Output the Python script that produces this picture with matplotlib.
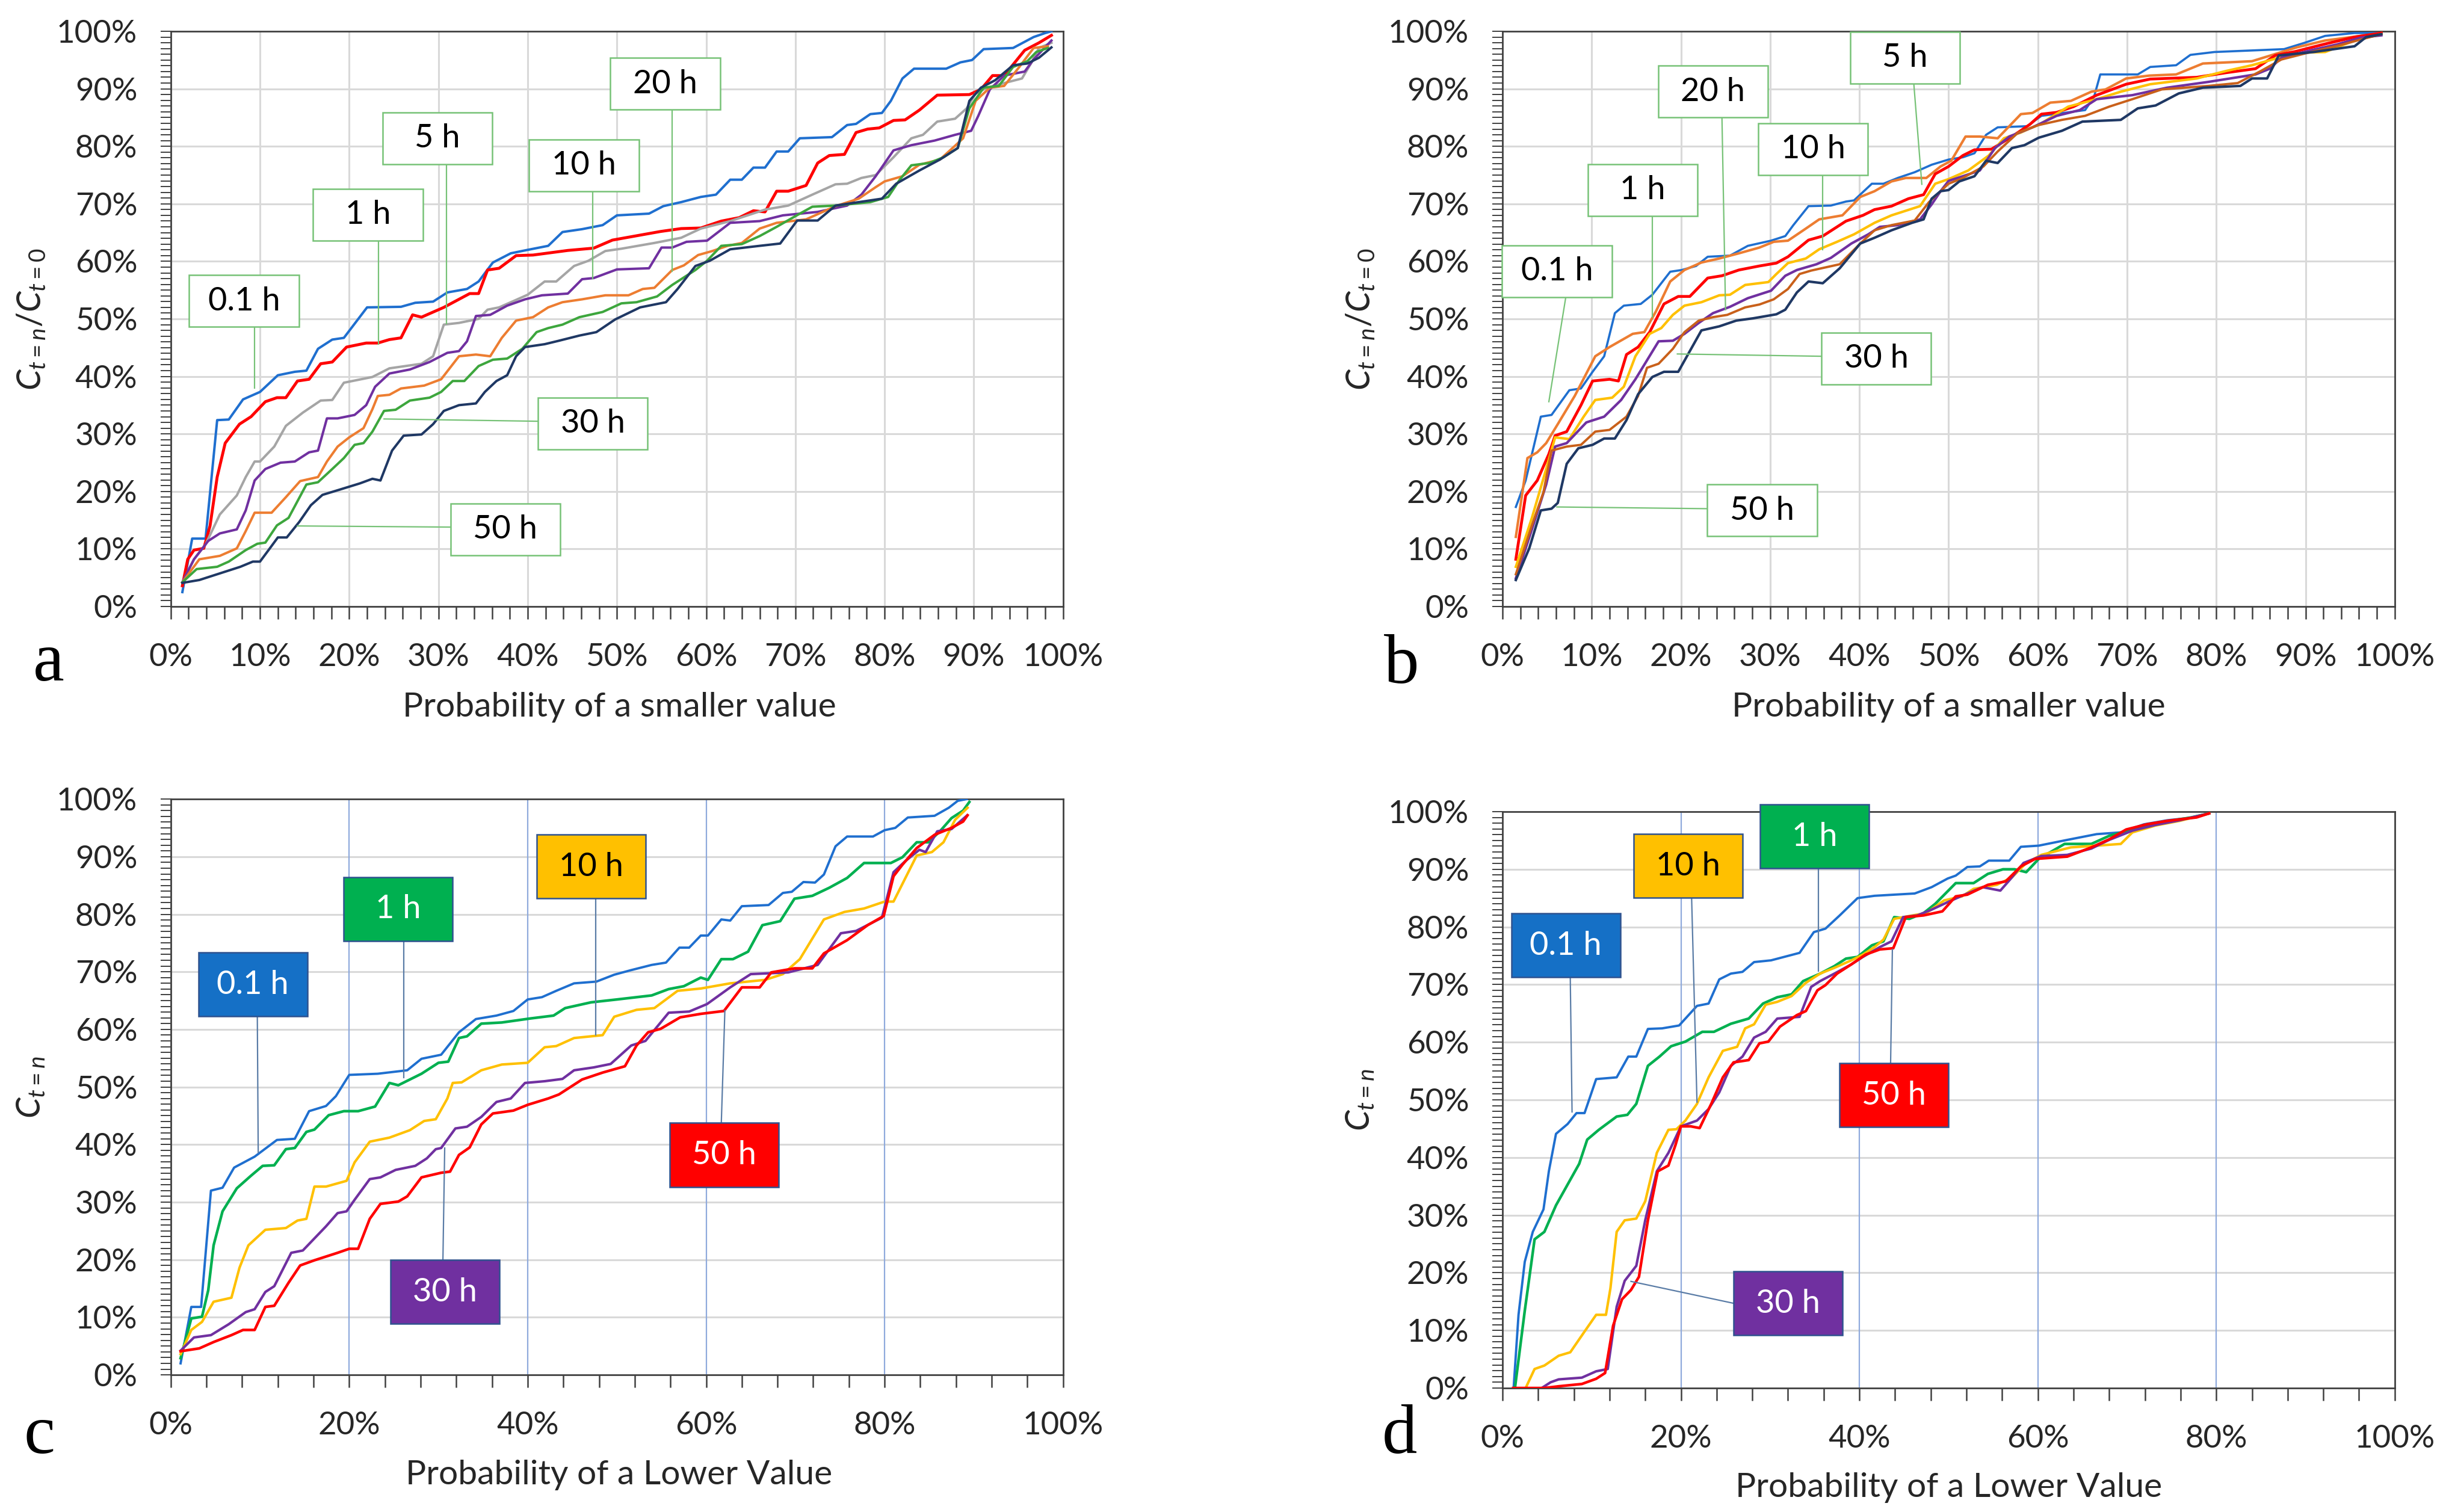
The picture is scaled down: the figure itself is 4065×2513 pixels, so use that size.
import matplotlib.pyplot as plt
from matplotlib.patches import Rectangle
from matplotlib.ticker import MultipleLocator, FuncFormatter

plt.rcParams['font.family'] = ['Lato', 'DejaVu Sans']
plt.rcParams['mathtext.fontset'] = 'custom'
plt.rcParams['mathtext.it'] = 'Lato:italic'
plt.rcParams['mathtext.rm'] = 'Lato'

# ---------------- panel a : Ct=n/Ct=0 vs probability of a smaller value ----------------
a_01_x = [1.3, 2.4, 3.9, 5.2, 6.5, 8.1, 10, 12, 13.9, 15.2, 16.5, 18.1, 19.4, 22, 25.8, 27.4, 29.4, 31, 33.2, 34.5,
          36.1, 38.1, 40, 42.3, 43.9, 46.1, 48.4, 50, 53.6, 55.2, 57.2, 59.4, 61.1, 62.7, 64, 65.3, 66.6, 67.9, 69.2,
          70.5, 74.1, 75.8, 76.8, 78.4, 79.7, 80.7, 82, 83.3, 86.9, 88.5, 89.8, 91.1, 94.4, 96.7, 98, 98.7]
a_01_y = [2.5, 11.8, 11.8, 32.4, 32.5, 36, 37.3, 40.2, 40.8, 41, 44.8, 46.4, 46.7, 52, 52.1, 52.8, 53, 54.6, 55.2, 56.5,
          59.8, 61.4, 62, 62.7, 65.1, 65.6, 66.3, 68, 68.3, 69.6, 70.3, 71.2, 71.6, 74.2, 74.2, 76.3, 76.3, 79.1, 79.1,
          81.4, 81.6, 83.7, 83.9, 85.6, 85.8, 87.9, 91.8, 93.5, 93.5, 94.6, 95, 96.9, 97.1, 99, 99.7, 100]
a_1_x = [1.3, 1.9, 2.6, 3.7, 4.4, 5.2, 6.1, 7.7, 9, 10.6, 11.9, 12.9, 14.2, 15.5, 16.8, 18.1, 19.7, 21.9, 23.2, 24.5,
         25.8, 27.1, 28.1, 30.6, 33.5, 34.5, 35.5, 36.8, 38.7, 40.6, 44.5, 47.4, 49.5, 54.9, 57.2, 59.4, 61.7, 63.7,
         65.3, 66.6, 67.9, 69.2, 71.2, 72.5, 73.8, 75.5, 76.8, 78.1, 79.4, 81, 82.3, 83.9, 85.9, 89.5, 90.8, 92.1, 93.4,
         95.7, 97.3, 98.7]
a_1_y = [3.6, 8.2, 9.8, 10.1, 14, 22.5, 28.4, 31.7, 33, 35.6, 36.3, 36.3, 39.2, 39.5, 42.2, 42.5, 45.1, 45.8, 45.8, 46.4,
         46.7, 50.7, 50.3, 52, 54.4, 54.4, 58.5, 58.8, 61, 61.1, 61.9, 62.3, 63.7, 65.2, 65.7, 65.8, 67, 67.6,
         68.8, 68.6, 72.2, 72.2, 73.2, 77.1, 78.4, 78.6, 82.4, 83, 83.2, 84.5, 84.6, 86.3, 88.9, 89, 89.9, 92.3, 92.3,
         96.7, 98, 99.3]
a_5_x = [1.3, 2.6, 3.9, 5.5, 7.4, 8.4, 9.4, 10, 11.6, 12.9, 14.8, 16.8, 18.1, 19.4, 22.6, 24.5, 28.1, 29.4, 30.6, 32.3,
         34.5, 35.5, 36.8, 38.7, 40, 41.9, 43.2, 45.2, 46.8, 48.7, 50.5, 54.2, 57.2, 59.4, 62.7, 66.6, 69.2, 71.9, 74.5,
         75.8, 77.4, 79, 81, 83, 84.3, 85.9, 87.9, 89.2, 90.2, 91.5, 93.4, 95.4, 96.4, 97.3, 98.7]
a_5_y = [4.2, 8.2, 10.8, 16, 19.3, 22.5, 25.2, 25.2, 27.8, 31.4, 33.7, 35.8, 35.9, 38.9, 39.9, 41.4, 42.2, 43.5, 49, 49.3,
         50, 51.6, 52, 53.3, 54.2, 56.5, 56.5, 59.2, 60.1, 61.8, 62.2, 63.2, 64.1, 65.7, 67, 69, 69.7, 71.6, 73.4,
         73.5, 74.5, 75, 78.1, 81.4, 82, 84.3, 84.8, 86.6, 89.2, 90.2, 91, 91.8, 94.4, 97.1, 98]
a_10_x = [1.3, 2.6, 4.2, 5.5, 7.4, 8.4, 9.4, 10.6, 12.3, 13.9, 15.5, 16.5, 17.5, 18.7, 20.6, 21.9, 22.9, 24.5, 26.8, 29,
          31, 32.3, 33.2, 34.2, 35.8, 37.7, 39.7, 41.6, 44.5, 46.1, 47.4, 50, 53.6, 55, 56.2, 57.8, 60.1, 62.7, 66,
          68.6, 72.5, 75.8, 77.4, 79, 81, 83, 85.6, 87.9, 89.7, 90.5, 91.8, 93.4, 95.7, 96.7, 98.7]
a_10_y = [4.2, 8.2, 11.4, 12.7, 13.4, 16.7, 21.9, 23.9, 25, 25.2, 26.8, 27.1, 32.7, 32.7, 33.3, 35, 38.2, 40.5, 41.2, 42.5,
          44.1, 44.4, 46.1, 50.5, 50.7, 52.3, 53.4, 54.1, 54.4, 56.9, 57.1, 58.6, 58.8, 62.4, 62.4, 63.4, 63.6, 66.7, 67,
          68, 68.6, 69.7, 71.6, 74.8, 79.3, 80.2, 81, 82, 82.7, 85.3, 89.9, 92.3, 93, 95.1, 98.4]
a_20_x = [1.3, 3.2, 5.5, 7.4, 8.4, 9.4, 11.3, 12.9, 14.5, 16.5, 17.5, 18.7, 20, 21.6, 22.6, 23.2, 24.5, 25.8, 28.4, 30.3,
          32.3, 34.2, 35.8, 37.1, 38.7, 40.6, 42.3, 43.9, 46.1, 48.7, 51.3, 52.9, 54.2, 56.2, 57.5, 59.1, 60.7, 62.4, 64,
          66, 67.9, 71.2, 74.5, 77.1, 79, 80, 82, 83.9, 86.2, 87.9, 88.8, 90.2, 91.8, 93.4, 95.1, 96.7, 98.3]
a_20_y = [4.2, 8.2, 8.8, 10.1, 13.1, 16.3, 16.3, 19, 21.8, 22.5, 25.2, 27.8, 29.4, 31, 34.3, 36.6, 36.8, 37.9, 38.4, 39.5,
          43.5, 43.8, 43.5, 46.7, 49.7, 50.3, 52, 52.9, 53.4, 54.1, 54.1, 55.2, 55.4, 58.5, 59.3, 61.1, 61.8, 62.7, 63.2,
          65.7, 66.7, 67.3, 69.6, 70.9, 72.9, 73.9, 74.8, 76.8, 77.7, 80.1, 81.4, 87.9, 90.2, 90.5, 93.8, 97.1, 97.4]
a_30_x = [1.3, 2.9, 5.2, 6.5, 8.4, 9.7, 10.6, 11.9, 13.2, 14.2, 15.2, 16.5, 18.1, 19.4, 20.6, 21.6, 22.6, 23.9, 25.2, 26.8,
          29, 30.3, 31.6, 32.9, 34.5, 36.1, 37.7, 39.4, 41, 42.3, 43.9, 45.8, 48.4, 50.5, 52.2, 54.5, 56.2, 58.8, 60.1,
          61.7, 64, 66, 67.9, 70.5, 71.9, 74.5, 78.4, 80.4, 81.7, 83, 85, 86.6, 88.2, 89.5, 91.1, 92.8, 94.4, 96, 97,
          98.3]
a_30_y = [4.2, 6.5, 6.9, 7.8, 9.8, 10.9, 11.1, 14.1, 15.4, 18.3, 21.2, 21.6, 23.9, 25.8, 28.1, 28.4, 30.4, 34, 34.2, 35.8,
          36.3, 37.3, 39.2, 39.2, 41.8, 42.9, 43.1, 44.8, 47.7, 48.4, 49, 50.3, 51.2, 52.7, 52.9, 53.9, 55.9, 58.5, 60.1,
          62.7, 63, 64.4, 66, 68.3, 69.5, 69.7, 70.3, 71.2, 74.2, 76.7, 77.1, 78.1, 79.7, 86.6, 90.2, 90.5, 93.8, 94.8,
          96.4, 97.1]
a_50_x = [1.3, 3.2, 5.2, 7.8, 9.2, 10, 11.1, 12, 13, 14.4, 15.7, 17, 18.9, 21.2, 22.6, 23.5, 24.8, 26.1, 28.1, 29.4, 30.6,
          32.3, 34.2, 35.2, 36.5, 37.7, 38.7, 39.7, 41.9, 43.5, 45.8, 47.7, 49.8, 52.6, 55.5, 56.8, 58.8, 60.4, 62.7, 66,
          68.3, 70.2, 72.5, 74.5, 78.4, 79.7, 81.3, 83.9, 86.2, 88.2, 89.5, 90.8, 92.4, 94.4, 96, 97.3, 98.7]
a_50_y = [4.1, 4.6, 5.6, 6.9, 7.8, 7.8, 10.1, 12, 12, 14.7, 17.6, 19.4, 20.3, 21.4, 22.2, 21.9, 27.1, 29.7, 29.9, 31.7, 34,
          35, 35.3, 37.3, 39.2, 40.2, 43.5, 45.1, 45.6, 46.2, 47.1, 47.7, 49.9, 52, 52.9, 55.2, 59.2, 60.1, 62.1, 62.7,
          63.1, 67.1, 67.1, 69.7, 70.6, 70.9, 73.5, 75.8, 77.7, 79.7, 87.9, 90.2, 91.5, 94.1, 94.4, 95.4, 97.2]

# ---------------- panel b ----------------
b_01_x = [1.5, 2.6, 4.3, 5.5, 7.5, 8.8, 10.1, 11.4, 12.6, 13.6, 15.5, 16.8, 18.8, 20.1, 21.7, 23, 25.5, 27.5, 30.1, 31.7,
          32.6, 34.3, 36.8, 38.5, 39.4, 41.4, 42.7, 44.3, 46.2, 48.1, 50, 51.6, 52.9, 54.2, 55.5, 58.8, 60.4, 65.3, 66.3,
          67, 71.2, 72.6, 75.5, 77.1, 79.8, 87.6, 89.9, 92.2, 95.5, 98.5]
b_01_y = [17.3, 21.9, 33, 33.3, 37.6, 37.9, 40.8, 43.5, 51, 52.3, 52.6, 54.2, 58.2, 58.5, 59.2, 60.8, 61, 62.7, 63.6, 64.4,
          66.3, 69.6, 69.7, 70.4, 70.6, 73.5, 73.5, 74.5, 75.5, 76.8, 77.7, 78.1, 78.8, 82, 83.3, 83.5, 85.3, 86.3, 88.6,
          92.5, 92.5, 93.8, 94.1, 95.9, 96.4, 96.9, 98, 99.2, 99.7, 99.7]
b_1_x = [1.5, 2.8, 3.9, 4.9, 6.2, 8.1, 10.4, 12, 14.6, 15.9, 17.2, 18.8, 20.4, 22.3, 24.3, 26.5, 28.8, 30.4, 32, 34, 35.5,
         38.1, 40.1, 41.7, 43.6, 45.2, 47.5, 49.1, 50.3, 51.9, 53.5, 55.5, 58.1, 59.4, 61.4, 63.7, 66, 67.6, 69.9, 72.5,
         75.5, 78.5, 84, 86.3, 89, 92.2, 96.2, 98.5]
b_1_y = [12.1, 25.8, 26.8, 28.4, 31.7, 36.6, 43.5, 45.1, 47.4, 47.7, 51.3, 56.5, 58.5, 59.8, 60.5, 61.4, 62.4, 63.4, 63.6,
         65.7, 67.3, 68, 71.2, 72.2, 73.9, 74.5, 74.5, 76.5, 77.5, 81.7, 81.7, 81.4, 85.6, 85.8, 87.6, 87.9, 89.5, 89.9,
         91.8, 92.3, 92.5, 94.4, 94.8, 95.9, 97.2, 98.4, 99.2, 99.7]
b_5_x = [1.5, 2.6, 3.9, 5.2, 5.9, 7.2, 8.8, 10.1, 12, 13, 13.9, 15.2, 16.5, 18.1, 19.7, 21, 23, 24.6, 26.5, 28.8, 30.7, 32,
         34.3, 35.9, 38.5, 40.4, 41.7, 43.6, 45.5, 47.2, 48.5, 50, 51.6, 52.9, 54.8, 57.1, 59.1, 60.4, 62.1, 64, 66.6,
         69.9, 72.6, 77.8, 81.1, 84.4, 86.6, 88.9, 92.2, 95.5, 98.5]
b_5_y = [8.2, 19.3, 21.9, 26.5, 29.7, 30.4, 35, 39.2, 39.5, 39.2, 43.8, 45.1, 47.7, 52.6, 53.9, 53.9, 57.1, 57.5, 58.5,
         59.2, 59.7, 60.8, 63.7, 64.4, 67, 68, 69, 69.6, 70.9, 71.6, 75.2, 76.5, 78.4, 79.4, 79.5, 81.7, 83.8, 85.6, 85.9,
         86.9, 88.9, 90.8, 91.7, 92, 92.8, 93.5, 95.8, 96.5, 97.8, 99, 99.7]
b_10_x = [1.5, 3.3, 4.9, 5.9, 7.5, 9.1, 10.4, 12.3, 13.6, 14.9, 16.5, 17.8, 19.1, 20.4, 22.3, 24.3, 25.5, 27.2, 29.8, 30.7,
          32, 34, 35.5, 37.5, 39.4, 41.7, 43.6, 46.8, 48.5, 50, 52.2, 54.5, 56.2, 58.1, 60.4, 63.4, 66.6, 69.3, 72.6, 77.8,
          81.1, 84, 87, 89.9, 92.2, 95.5, 98.5]
b_10_y = [6.9, 15.4, 23.9, 29.4, 29.1, 33, 35.9, 36.3, 38.2, 43.5, 47.4, 48.4, 50.7, 52.3, 52.9, 54.1, 54.2, 55.9, 56.4,
          57.8, 59.7, 60.5, 62.1, 63.4, 64.7, 66.7, 68, 69.6, 73.5, 74.3, 75.8, 78.4, 81.4, 82.4, 84, 86.9, 88.2, 89.5,
          90.8, 91.8, 93.1, 94.1, 95.4, 96.3, 96.4, 98.4, 99.5]
b_20_x = [1.5, 3.3, 4.9, 5.9, 7.2, 9.4, 11.4, 13.3, 14.9, 16.2, 17.5, 19.1, 20.4, 22, 23.6, 25.5, 27.5, 30.1, 31.7, 33,
          35.2, 36.8, 39.1, 41, 42.3, 44.3, 46.8, 48.1, 49.1, 50, 51.6, 53.5, 55.2, 56.8, 59.4, 62.1, 64.7, 66.6, 70.6,
          74.5, 79.1, 84.4, 86, 87.3, 90.6, 93.5, 96.2, 98.5]
b_20_y = [4.9, 13.4, 21.2, 27.8, 28.4, 32, 33, 35.9, 39.5, 42.8, 46.1, 46.2, 47.4, 49.3, 51, 52.1, 53.6, 54.9, 57.5, 58.5,
          59.5, 60.6, 63.1, 64.7, 66, 66.3, 67.3, 69.9, 72.2, 74, 74.8, 75.8, 79.7, 81.7, 83.3, 85.3, 86.3, 88.2, 88.9,
          90.2, 91.2, 92.5, 93.5, 95.4, 96.7, 97.7, 98.9, 99.3]
b_30_x = [1.5, 3.3, 4.6, 5.5, 7.2, 8.8, 10.4, 12, 13.9, 15.2, 16.2, 17.5, 19.1, 20.4, 22, 23.6, 25.2, 27.2, 28.8, 30.4, 32,
          33.3, 34.6, 37.8, 40.1, 41.7, 43.6, 46.2, 47.8, 49.1, 50, 51.6, 53.9, 55.5, 57.8, 60.1, 62.7, 65.3, 68, 70.6,
          73.9, 79.1, 82.4, 85, 87.3, 90.6, 93.9, 96.5, 98.5]
b_30_y = [5.6, 14.1, 19.9, 27.1, 27.8, 28.1, 30.4, 30.7, 33, 36.6, 41.5, 42.2, 44.8, 47.7, 49.7, 50.3, 50.7, 52, 52.5,
          53.4, 55.2, 57.8, 58.4, 59.5, 63.1, 65.4, 66.3, 67.1, 70.3, 72.2, 73.5, 74.5, 76.5, 79.1, 82.4, 83.7, 84.6, 85.3,
          86.9, 88.2, 89.9, 90.5, 91, 93.1, 95.1, 96.4, 97.6, 98.7, 99.5]
b_50_x = [1.5, 3, 4.3, 5.5, 6.2, 7.2, 8.5, 10.1, 11.4, 12.6, 13.9, 15.2, 16.8, 18.1, 19.7, 21, 22.3, 24.3, 26.2, 28.1,
          30.7, 31.7, 33, 34.3, 35.9, 37.8, 40.1, 41.7, 43.6, 45.9, 47.2, 48.1, 49.1, 50, 51.2, 52.9, 54.2, 55.5, 57.1,
          58.5, 60.1, 62.7, 65, 69.3, 71.2, 73.2, 75.8, 78.5, 82.7, 84, 85.7, 87, 90.9, 95.5, 96.8, 98.5]
b_50_y = [4.6, 10.1, 16.7, 17, 18, 24.8, 27.5, 28.1, 29.2, 29.2, 32.4, 36.9, 39.9, 40.8, 40.8, 44.4, 48, 48.7, 49.7, 50.1,
          50.8, 51.6, 54.6, 56.5, 56.2, 58.8, 63.1, 64.1, 65.4, 66.7, 67.3, 70.9, 72.2, 72.4, 73.9, 74.8, 77.5, 77.1, 79.7,
          80.2, 81.5, 82.7, 84.3, 84.6, 86.6, 87.1, 89.2, 90.2, 90.5, 91.8, 91.8, 95.8, 96.4, 97.4, 99, 99.5]

# ---------------- panel c : Ct=n vs probability of a lower value ----------------
c_01_x = [1.1, 2.3, 3.4, 4.5, 5.8, 7.1, 9.4, 11.9, 13.9, 15.5, 17.4, 18.5, 20, 23.2, 26.5, 28.1, 30.3, 32.3, 34.2, 36.5,
          38.4, 40, 41.6, 43.2, 45.2, 47.7, 49.7, 51.6, 53.9, 55.5, 57, 58.1, 59.4, 60.2, 61.7, 62.7, 64, 67, 68.6, 69.6,
          70.9, 72.2, 73.2, 74.5, 75.8, 78.7, 80, 81.2, 82.6, 85.6, 87.2, 88.2, 89.2]
c_01_y = [2, 11.8, 11.8, 32, 32.5, 36, 37.9, 40.8, 41, 45.8, 46.7, 48.4, 52.1, 52.3, 52.9, 54.9, 55.6, 59.5, 61.8, 62.4,
          63.2, 65.2, 65.6, 66.7, 68, 68.3, 69.5, 70.3, 71.2, 71.6, 74.2, 74.2, 76.3, 76.3, 79.1, 78.9, 81.4, 81.6, 83.7,
          83.9, 85.6, 85.5, 86.9, 91.8, 93.5, 93.5, 94.6, 95, 96.8, 97.1, 98.5, 99.7, 100]
c_1_x = [1.1, 2.3, 3.5, 4.2, 4.8, 5.8, 7.4, 9, 10.3, 11.6, 12.9, 13.9, 15.2, 16.1, 17.7, 19.4, 21, 22.9, 24.5, 25.5, 28.1,
         30, 31.1, 32.3, 33.2, 34.8, 37.1, 40.3, 42.9, 44.2, 47.1, 50, 53.9, 55.8, 57.5, 59.4, 60.2, 61.7, 63, 64.7,
         66.3, 68.3, 69.9, 71.9, 73.8, 75.8, 77.7, 80.7, 82, 83.6, 84.9, 86.2, 87.5, 88.8, 89.5]
c_1_y = [2.9, 9.8, 10.1, 14.7, 22.5, 28.4, 32.4, 34.6, 36.3, 36.4, 39.2, 39.4, 42.2, 42.6, 45.1, 45.8, 45.8, 46.6, 50.7,
         50.3, 52.3, 54.2, 54.4, 58.5, 58.8, 61, 61.2, 61.9, 62.4, 63.7, 64.7, 65.2, 65.9, 67, 67.5, 69, 68.6, 72.2, 72.2,
         73.5, 78.1, 78.8, 82.7, 83.2, 84.6, 86.3, 88.9, 88.9, 89.9, 92.5, 92.5, 94.4, 96.7, 98, 99.5]
c_10_x = [1.1, 2.3, 3.5, 4.8, 6.8, 7.7, 8.7, 10.6, 12.9, 14.2, 15.2, 16.1, 17.4, 19.7, 20.6, 22.3, 24.5, 26.8, 28.4, 29.7,
          31, 31.6, 32.6, 34.8, 37.1, 40, 41.9, 43.2, 45.2, 48.4, 49.7, 52.2, 54.2, 56.8, 59.4, 62.7, 66.6, 68.6, 70.5,
          73.2, 75.5, 77.7, 80, 81, 83.6, 85.3, 86.6, 87.9, 89.3]
c_10_y = [3.6, 7.8, 9.2, 12.7, 13.4, 18.6, 22.5, 25.2, 25.5, 26.8, 27.1, 32.7, 32.7, 33.7, 36.9, 40.5, 41.2, 42.5, 44.1,
          44.4, 48, 50.7, 50.8, 52.9, 53.9, 54.2, 56.9, 57.1, 58.5, 59, 62.2, 63.4, 63.7, 66.7, 67.1, 68, 68.6, 69.6, 72.2,
          79.1, 80.4, 81, 82.2, 82.2, 90.2, 90.8, 92.5, 96.4, 98.5]
c_30_x = [1.1, 2.6, 4.5, 6.5, 8.4, 9.4, 10.6, 11.6, 13.5, 14.8, 17.4, 18.7, 19.7, 20.6, 22.3, 23.5, 25.2, 27.4, 28.7,
          29.7, 30.3, 31.9, 33.2, 34.8, 36.5, 38.1, 39.7, 41.9, 43.9, 45.2, 47.4, 49.3, 51.6, 53.2, 55.8, 58.1, 60.1, 62.7,
          65, 69.2, 72.5, 75.1, 76.8, 79.7, 81, 82.3, 83.9, 84.6, 85.9, 87.5, 89.2]
c_30_y = [4.2, 6.5, 6.9, 8.8, 10.9, 11.4, 14.4, 15.4, 21.2, 21.6, 25.8, 28.1, 28.4, 30.4, 34, 34.3, 35.6, 36.3, 37.6, 39.2,
          39.4, 42.8, 43.1, 44.8, 47.4, 48, 50.7, 51, 51.4, 52.9, 53.4, 54, 57.2, 58, 62.9, 63.1, 64.4, 67.3, 69.6, 69.9,
          71.2, 76.7, 77.1, 79.4, 87.3, 89.2, 91.2, 90.8, 94.4, 94.8, 97.1]
c_50_x = [1.1, 3.2, 4.8, 6.8, 8.1, 9.4, 10.6, 11.6, 13.2, 14.5, 16.1, 18.7, 20, 21, 22.3, 23.5, 25.5, 26.5, 28.1, 30.3,
          31.3, 32.3, 33.5, 34.8, 36.1, 38.4, 40, 42.3, 43.5, 46.1, 48.4, 50.9, 52.2, 53.5, 54.9, 57.1, 59.4, 62, 64, 66,
          67.3, 69.9, 71.9, 73.2, 75.8, 78.1, 79.9, 81, 82, 83.6, 85.6, 87.5, 88.8, 89.3]
c_50_y = [4.1, 4.6, 5.7, 6.9, 7.8, 7.8, 11.8, 12, 16, 19, 19.9, 21.2, 21.9, 21.9, 27.1, 29.7, 30.1, 31, 34.3, 35.1, 35.3,
          38.2, 39.5, 43.5, 45.4, 45.9, 46.9, 48, 48.7, 51.3, 52.5, 53.6, 57.2, 59.5, 60.1, 62.1, 62.7, 63.2, 67.3, 67.3,
          69.9, 70.6, 70.6, 73.2, 75.5, 78.1, 79.7, 86.6, 88.6, 91.5, 93.8, 95, 96.1, 97.2]

# ---------------- panel d ----------------
d_01_x = [1.25, 1.8, 2.5, 3.4, 4.6, 5.2, 6, 7.3, 8.3, 9.2, 10.5, 12.8, 14.1, 15, 16.3, 17.9, 19.8, 21.8, 23.1, 24.3, 25.6,
          26.9, 28.2, 30.1, 33.3, 34.9, 36.2, 37.8, 39.8, 41.7, 46.2, 48.1, 49.9, 50.8, 52.1, 53.5, 54.5, 56.8, 58.1,
          60.1, 63.3, 66.6, 69.3, 71.9, 74.5, 77.5, 79.2]
d_01_y = [0, 12.7, 21.9, 27.1, 31, 37.6, 44.1, 45.8, 47.7, 47.7, 53.6, 53.9, 57.5, 57.5, 62.3, 62.4, 62.9, 66.3, 66.7,
          70.9, 71.9, 72.2, 73.9, 74.2, 75.5, 79.1, 79.7, 82, 85, 85.4, 85.8, 86.9, 88.4, 88.9, 90.4, 90.5, 91.5, 91.5,
          93.9, 94.1, 95.1, 96.1, 96.4, 97.8, 98.5, 99, 99.7]
d_1_x = [1.4, 2.5, 3.6, 4.7, 6, 7.3, 8.6, 9.5, 10.8, 12.8, 14, 15, 16.3, 17.6, 18.9, 20.5, 22.4, 23.7, 25.6, 27.6, 29.2,
         30.8, 32.4, 33.7, 35.6, 37.2, 38.5, 39.8, 41.4, 42.7, 43.9, 45.6, 47.2, 48.5, 50.8, 52.8, 54.4, 56.1, 57.4, 58.7,
         60.1, 62, 63, 66, 68, 70.6, 73.2, 75.2, 77.2, 79.2]
d_1_y = [0, 13.4, 25.8, 27.1, 31.7, 35.3, 38.9, 43.1, 44.8, 47.1, 47.4, 49.3, 55.9, 57.5, 59.3, 60.1, 61.8, 61.8, 63.2,
         64.1, 66.7, 67.8, 68.3, 70.6, 71.9, 73.2, 74.5, 74.8, 76.8, 77.5, 81.7, 81.4, 82.4, 84, 87.6, 87.6, 89.2, 90, 90,
         89.5, 91.8, 93.5, 94.4, 94.4, 95.8, 96.9, 97.7, 98.5, 99, 99.7]
d_10_x = [2.6, 3.6, 4.7, 6.3, 7.6, 9.2, 10.5, 11.6, 12.1, 12.8, 13.7, 15, 16, 17.3, 18.6, 19.5, 20.5, 21.8, 23.1, 24.7,
          26.3, 27.2, 28.2, 29.5, 30.8, 32.4, 34, 35.6, 37.2, 39.1, 40.4, 41.7, 42.7, 43.9, 45.6, 47.5, 49.5, 51.5, 52.8,
          55.4, 57.1, 58.7, 60.4, 63.7, 66.6, 69.3, 70.6, 73.2, 75.9, 79.2]
d_10_y = [0, 3.3, 3.9, 5.6, 6.2, 9.8, 12.7, 12.7, 17.3, 27.1, 29.1, 29.4, 32.4, 40.8, 44.8, 44.9, 46.4, 49.3, 53.9, 58.5,
          59.2, 62.4, 63.1, 66.5, 67, 68, 70.3, 71.9, 72.9, 74.2, 75.2, 76.5, 77.8, 81.4, 81.9, 82.4, 84.6, 85.3, 86.6,
          87.3, 88.6, 91.1, 92.5, 93.8, 94.1, 94.4, 96.4, 97.6, 98.4, 99.7]
d_30_x = [4.4, 5.4, 6.3, 8.9, 10.5, 11.8, 12.8, 13.7, 15, 16, 17.3, 18.6, 20, 21.8, 23.1, 24.3, 25.6, 26.9, 28.2, 29.5,
          30.8, 33.3, 34.6, 35.6, 37.2, 39.1, 40.4, 42.3, 43.6, 44.9, 46.5, 48.1, 49.9, 51.5, 53.8, 55.8, 57.1, 58.4, 60.4,
          63.3, 66, 68, 70.6, 73.2, 75.9, 79.2]
d_30_y = [0, 1, 1.5, 1.8, 2.9, 3.3, 14.1, 18.6, 21.2, 29.1, 37.6, 40.8, 45.4, 46.4, 48.4, 51.3, 55.9, 57.5, 60.8, 61.8,
          64.1, 64.4, 69.6, 70.6, 71.9, 73.5, 74.8, 76.5, 77.5, 81.7, 82, 83, 84.3, 85.4, 86.9, 86.3, 88.6, 91.1, 92.3,
          92.5, 93.6, 95.1, 96.7, 97.7, 98.5, 99.7]
d_50_x = [1.2, 4.7, 6.3, 8.9, 10.5, 11.5, 12.4, 13.4, 14.4, 15.3, 16.3, 17.4, 18.6, 19.4, 20, 21.1, 22.1, 23.4, 24.7, 25.9,
          27.6, 28.8, 29.8, 31.1, 33, 34, 35.3, 36.2, 37.5, 39.1, 40.7, 42.3, 43.8, 45.2, 47.2, 49.3, 50.8, 52.1, 54.4,
          56.4, 58.1, 59.7, 63.3, 66, 68, 69.9, 72.2, 74.5, 77.8, 79.2]
d_50_y = [0, 0, 0.3, 0.7, 1.6, 2.6, 10.8, 15.4, 17, 19.3, 29.1, 37.6, 38.6, 42.2, 45.4, 45.4, 45.1, 49.3, 53.9, 56.5, 56.9,
          59.8, 60.1, 62.7, 64.7, 65.4, 69, 69.9, 71.9, 73.5, 75.2, 76.1, 76.3, 81.7, 82, 82.7, 85.3, 85.6, 87.3, 87.9,
          90.5, 91.8, 92.2, 93.8, 95.2, 96.9, 97.8, 98.4, 99, 99.7]

x_ticks_ab = [0, 10, 20, 30, 40, 50, 60, 70, 80, 90, 100]
x_ticks_cd = [0, 20, 40, 60, 80, 100]
y_ticks = [0, 10, 20, 30, 40, 50, 60, 70, 80, 90, 100]

BLUE = '#1F6FCF'
RED = '#FF0000'
GREY = '#A5A5A5'
PURPLE = '#7030A0'
ORANGE = '#ED7D31'
GREEN_A = '#3DA63D'
NAVY = '#1F3864'
YELLOW = '#FFC000'
DARK_ORANGE = '#C9601A'
GREEN = '#00B050'
TAG_GREEN = '#77C277'

fig = plt.figure(figsize=(40.66, 25.13), dpi=100)
ax_a = fig.add_axes([0.0698, 0.5989, 0.3647, 0.3804])
ax_b = fig.add_axes([0.6141, 0.5989, 0.3647, 0.3804])
ax_c = fig.add_axes([0.0698, 0.0907, 0.3647, 0.3808])
ax_d = fig.add_axes([0.6141, 0.0820, 0.3647, 0.3812])

pct = FuncFormatter(lambda v, p: f'{v:.0f}%')


def setup(ax, xticks, x_minor, vgrid_color, vgrid_lw):
    ax.set_xlim(0, 100)
    ax.set_ylim(0, 100)
    ax.set_xticks(xticks)
    ax.set_yticks(y_ticks)
    ax.xaxis.set_minor_locator(MultipleLocator(x_minor))
    ax.yaxis.set_minor_locator(MultipleLocator(1))
    ax.xaxis.set_major_formatter(pct)
    ax.yaxis.set_major_formatter(pct)
    ax.tick_params(axis='x', which='both', direction='out', length=15, width=1.8,
                   color='#404040', pad=29, labelsize=38, labelcolor='#262626')
    ax.tick_params(axis='y', which='both', direction='out', length=12, width=1.4,
                   color='#404040', pad=28, labelsize=38, labelcolor='#262626')
    ax.set_axisbelow(True)
    for v in y_ticks[1:-1]:
        ax.axhline(v, color='#D9D9D9', lw=2.2, zorder=0)
    for v in xticks[1:-1]:
        ax.axvline(v, color=vgrid_color, lw=vgrid_lw, zorder=0)
    for s in ax.spines.values():
        s.set_color('#404040')
        s.set_linewidth(2)


def tag(ax, text, centre, start, end, w, h, face, edge, tcolor, lcolor):
    cx, cy = centre
    ax.plot([start[0], end[0]], [start[1], end[1]], color=lcolor, lw=1.6, zorder=4,
            clip_on=False)
    ax.add_patch(Rectangle((cx - w / 2, cy - h / 2), w, h, facecolor=face, edgecolor=edge,
                           lw=1.8, zorder=5, clip_on=False))
    ax.text(cx, cy, text, ha='center', va='center', fontsize=39, color=tcolor, zorder=6)


# panel a
setup(ax_a, x_ticks_ab, 2, '#D9D9D9', 2.2)
for xs, ys, col, lw in [(a_01_x, a_01_y, BLUE, 2.9), (a_1_x, a_1_y, RED, 3.5), (a_5_x, a_5_y, GREY, 2.9),
                        (a_10_x, a_10_y, PURPLE, 2.9), (a_20_x, a_20_y, ORANGE, 2.9),
                        (a_30_x, a_30_y, GREEN_A, 2.9), (a_50_x, a_50_y, NAVY, 2.9)]:
    ax_a.plot(xs, ys, color=col, lw=lw, zorder=3, solid_joinstyle='round')
for text, c, s, e in [('0.1 h', (8.2, 53.1), (9.4, 48.6), (9.4, 38)),
                      ('1 h', (22.1, 68.1), (23.3, 63.6), (23.3, 45.6)),
                      ('5 h', (29.9, 81.4), (30.9, 76.9), (30.9, 49.2)),
                      ('10 h', (46.3, 76.7), (47.3, 72.2), (47.3, 57)),
                      ('20 h', (55.4, 90.9), (56.2, 86.4), (56.2, 58.3)),
                      ('30 h', (47.3, 31.8), (41.15, 32.2), (23.9, 32.6)),
                      ('50 h', (37.5, 13.4), (31.35, 13.8), (14.2, 14))]:
    tag(ax_a, text, c, s, e, 12.3, 9, 'white', TAG_GREEN, 'black', TAG_GREEN)

# panel b
setup(ax_b, x_ticks_ab, 2, '#D9D9D9', 2.2)
for xs, ys, col, lw in [(b_01_x, b_01_y, BLUE, 2.6), (b_1_x, b_1_y, ORANGE, 3.0), (b_5_x, b_5_y, RED, 3.4),
                        (b_10_x, b_10_y, YELLOW, 3.0), (b_20_x, b_20_y, PURPLE, 3.0),
                        (b_30_x, b_30_y, DARK_ORANGE, 2.8), (b_50_x, b_50_y, NAVY, 3.0)]:
    ax_b.plot(xs, ys, color=col, lw=lw, zorder=3, solid_joinstyle='round')
for text, c, s, e in [('0.1 h', (6.1, 58.3), (7.1, 53.8), (5.2, 35.6)),
                      ('1 h', (15.7, 72.4), (16.8, 67.9), (16.8, 50.3)),
                      ('20 h', (23.6, 89.5), (24.6, 85), (25, 51.6)),
                      ('10 h', (34.8, 79.5), (35.9, 75), (35.9, 62)),
                      ('5 h', (45.1, 95.4), (46.1, 90.9), (47, 73.4)),
                      ('30 h', (41.9, 43.1), (35.75, 43.5), (19.6, 43.9)),
                      ('50 h', (29.1, 16.7), (22.95, 17), (6.1, 17.3))]:
    tag(ax_b, text, c, s, e, 12.3, 9, 'white', TAG_GREEN, 'black', TAG_GREEN)

# panel c
setup(ax_c, x_ticks_cd, 4, '#8FAADC', 1.6)
for xs, ys, col, lw in [(c_01_x, c_01_y, BLUE, 2.8), (c_1_x, c_1_y, GREEN, 3.2), (c_10_x, c_10_y, YELLOW, 3.0),
                        (c_30_x, c_30_y, PURPLE, 3.0), (c_50_x, c_50_y, RED, 3.2)]:
    ax_c.plot(xs, ys, color=col, lw=lw, zorder=3, solid_joinstyle='round')
LEAD = '#5A7CA6'
for text, c, s, e, face, tc in [('0.1 h', (9.2, 67.8), (9.7, 62.25), (9.8, 38.6), '#1570C6', 'white'),
                                ('1 h', (25.5, 80.9), (26.1, 75.35), (26.1, 51.6), GREEN, 'white'),
                                ('10 h', (47.1, 88.3), (47.6, 82.75), (47.6, 59.1), YELLOW, 'black'),
                                ('30 h', (30.7, 14.4), (30.5, 19.95), (30.7, 39.4), PURPLE, 'white'),
                                ('50 h', (62, 38.2), (61.7, 43.75), (62.1, 63.3), RED, 'white')]:
    tag(ax_c, text, c, s, e, 12.2, 11.1, face, '#2F528F', tc, LEAD)

# panel d
setup(ax_d, x_ticks_cd, 4, '#8FAADC', 1.6)
for xs, ys, col, lw in [(d_01_x, d_01_y, BLUE, 2.8), (d_1_x, d_1_y, GREEN, 3.2), (d_10_x, d_10_y, YELLOW, 3.0),
                        (d_30_x, d_30_y, PURPLE, 3.0), (d_50_x, d_50_y, RED, 3.2)]:
    ax_d.plot(xs, ys, color=col, lw=lw, zorder=3, solid_joinstyle='round')
for text, c, s, e, face, tc in [('0.1 h', (7.1, 76.8), (7.6, 71.25), (7.8, 47.9), '#1570C6', 'white'),
                                ('10 h', (20.8, 90.6), (21.2, 85.05), (21.8, 49.6), YELLOW, 'black'),
                                ('1 h', (35, 95.7), (35.4, 90.15), (35.4, 72.3), GREEN, 'white'),
                                ('50 h', (43.9, 50.8), (43.5, 56.35), (43.7, 76.1), RED, 'white'),
                                ('30 h', (32, 14.7), (25.9, 14.7), (14.4, 18.5), PURPLE, 'white')]:
    tag(ax_d, text, c, s, e, 12.2, 11.1, face, '#2F528F', tc, LEAD)

# axis titles
fig.text(0.2531, 0.5324, 'Probability of a smaller value', ha='center', va='center', fontsize=41, color='#262626')
fig.text(0.7964, 0.5324, 'Probability of a smaller value', ha='center', va='center', fontsize=41, color='#262626')
fig.text(0.2531, 0.0243, 'Probability of a Lower Value', ha='center', va='center', fontsize=41, color='#262626')
fig.text(0.7964, 0.0163, 'Probability of a Lower Value', ha='center', va='center', fontsize=41, color='#262626')
fig.text(0.0128, 0.7887, r'$C_{t=n}/C_{t=0}$', rotation=90, ha='center', va='center', fontsize=40, color='#262626')
fig.text(0.5561, 0.7887, r'$C_{t=n}/C_{t=0}$', rotation=90, ha='center', va='center', fontsize=40, color='#262626')
fig.text(0.0128, 0.2809, r'$C_{t=n}$', rotation=90, ha='center', va='center', fontsize=40, color='#262626')
fig.text(0.5561, 0.2726, r'$C_{t=n}$', rotation=90, ha='center', va='center', fontsize=40, color='#262626')

# panel letters
for letter, x, y in [('a', 0.0135, 0.5499), ('b', 0.5657, 0.5484), ('c', 0.0096, 0.0390), ('d', 0.5649, 0.0390)]:
    fig.text(x, y, letter, ha='left', va='baseline', fontsize=84, family='Liberation Serif', color='black')

fig.savefig('out.png', dpi=100, facecolor='white')
